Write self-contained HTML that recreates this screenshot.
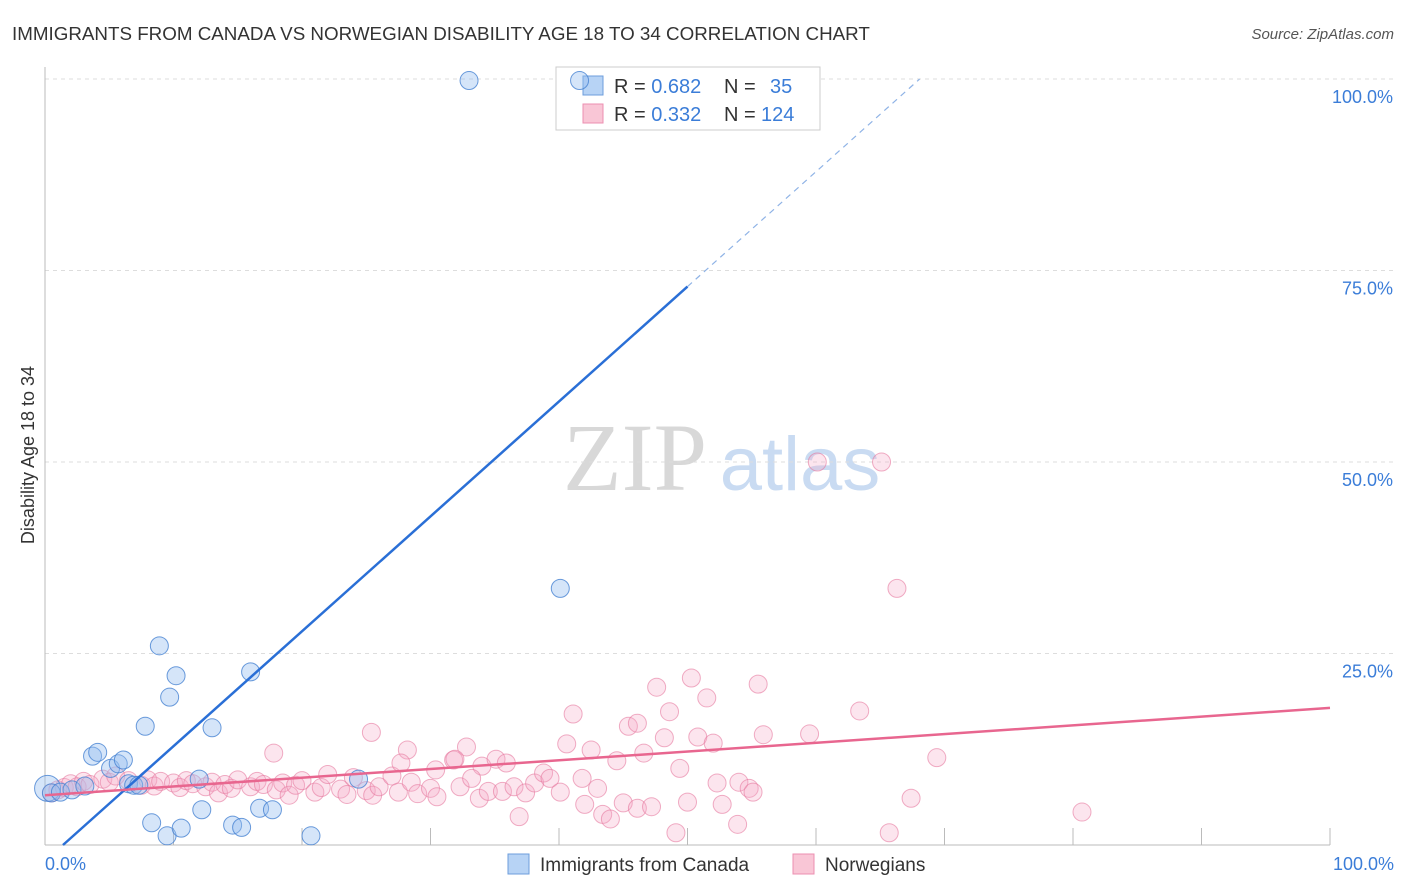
<!DOCTYPE html>
<html><head><meta charset="utf-8"><style>
body{margin:0;background:#fff;font-family:"Liberation Sans",sans-serif}
svg{display:block}
</style></head><body>
<svg id="chart" width="1406" height="892">
<text x="12" y="40" font-size="18.8" fill="#333">IMMIGRANTS FROM CANADA VS NORWEGIAN DISABILITY AGE 18 TO 34 CORRELATION CHART</text>
<text x="1394" y="39" font-size="15" fill="#555" text-anchor="end" font-style="italic">Source: ZipAtlas.com</text>
<g>
<text x="635" y="490" font-size="96" fill="#d8d8d8" font-family="Liberation Serif,serif" text-anchor="middle">ZIP</text>
<text x="800" y="490" font-size="76" fill="#c9dbf2" text-anchor="middle">atlas</text>
</g>
<g id="grid"></g>
<text transform="translate(34,455) rotate(-90)" font-size="18" fill="#333" text-anchor="middle">Disability Age 18 to 34</text>
<g>
<rect x="556" y="67" width="264" height="63" fill="#fff" stroke="#ccc"/>
<rect x="583" y="76" width="20" height="19" fill="#b7d3f5" stroke="#6c9edc"/>
<rect x="583" y="104" width="20" height="19" fill="#f9c6d6" stroke="#ec8fb0"/>
<text x="614" y="93" font-size="20" fill="#333">R = <tspan fill="#3b7dd8">0.682</tspan><tspan x="724">N = </tspan><tspan x="770" fill="#3b7dd8">35</tspan></text>
<text x="614" y="121" font-size="20" fill="#333">R = <tspan fill="#3b7dd8">0.332</tspan><tspan x="724">N = </tspan><tspan x="761" fill="#3b7dd8">124</tspan></text>
</g>
<g id="marks"></g>
<g>
<rect x="508" y="854" width="21" height="20" fill="#b7d3f5" stroke="#6c9edc"/>
<text x="540" y="871" font-size="19" fill="#333">Immigrants from Canada</text>
<rect x="793" y="854" width="21" height="20" fill="#f9c6d6" stroke="#ec8fb0"/>
<text x="825" y="871" font-size="19" fill="#333">Norwegians</text>
</g>
</svg>
<script>
const yTicks=[25,50,75,100];
const xTickLabels=["0.0%","100.0%"];
const blueX=[0.2,0.5,1.2,2.1,3.1,3.7,4.1,5.1,5.7,6.1,6.5,6.9,7.3,7.8,8.9,8.3,9.5,9.7,10.2,10.6,12.0,12.2,13.0,14.6,15.3,16.0,16.7,17.7,20.7,24.4,33.0,41.6,40.1];
const blueY=[7.4,6.8,6.9,7.2,7.7,11.6,12.1,10.0,10.6,11.1,8.0,7.8,7.8,15.5,26.0,2.9,1.2,19.3,22.1,2.2,8.6,4.6,15.3,2.6,2.3,22.6,4.8,4.6,1.2,8.6,99.8,99.8,33.5];
const pinkX=[0.5,1.0,1.5,2.0,2.5,3.0,3.5,4.5,5.0,5.5,6.5,7.5,8.0,8.5,9.0,10.0,10.5,11.0,11.5,12.5,13.0,13.5,14.0,14.5,15.0,16.0,16.5,17.0,18.0,18.5,19.0,19.5,20.0,21.0,21.5,22.0,23.0,23.5,24.0,25.0,25.5,26.0,27.0,27.5,28.5,29.0,30.0,30.5,
17.8,25.4,28.2,27.7,30.4,31.8,32.8,31.9,34.0,35.1,35.9,32.3,33.2,33.8,34.5,35.6,36.5,37.4,38.1,38.8,39.3,40.1,36.9,41.1,40.6,42.5,41.8,42.0,43.0,43.4,44.0,45.0,46.1,47.2,44.5,45.4,46.1,46.6,47.6,48.6,48.2,49.4,49.1,50.0,50.3,51.5,50.8,52.0,52.3,52.7,53.9,54.0,54.8,55.1,55.5,55.9,59.5,63.4,69.4,67.4,65.7,60.1,65.1,66.3,80.7];
const pinkY=[6.8,7.2,7.5,8.0,7.6,8.3,7.9,8.6,8.2,9.0,8.4,7.8,8.5,7.7,8.3,8.1,7.5,8.4,8.0,7.6,8.2,6.8,7.9,7.4,8.5,7.6,8.3,7.9,7.2,8.1,6.5,7.8,8.4,6.9,7.5,9.2,7.3,6.6,8.8,7.1,6.5,7.6,9.0,6.9,8.2,6.7,7.4,6.3,
12.0,14.7,12.4,10.7,9.8,11.1,12.8,11.2,10.3,11.2,10.7,7.6,8.7,6.1,7.0,7.0,7.6,6.8,8.1,9.4,8.7,6.9,3.7,17.1,13.2,12.4,8.7,5.3,7.4,4.0,3.4,5.5,4.8,5.0,11.0,15.5,15.9,12.0,20.6,17.4,14.0,10.0,1.6,5.6,21.8,19.2,14.1,13.3,8.1,5.3,2.7,8.2,7.4,6.9,21.0,14.4,14.5,17.5,11.4,6.1,1.6,50.0,50.0,33.5,4.3];
const blueFit=[1.4,72.9];
const pinkFit=[6.5,17.9];
const NS='http://www.w3.org/2000/svg';
const X0=45,X1=1330,Y0=845,Y1=79;
const sx=v=>X0+(X1-X0)*v/100, sy=v=>Y0-(Y0-Y1)*v/100;
function mk(t,a,p){const e=document.createElementNS(NS,t);for(const k in a)e.setAttribute(k,a[k]);p.appendChild(e);return e;}
const grid=document.getElementById('grid'),marks=document.getElementById('marks');
yTicks.forEach(v=>{
 const l=mk('line',{x1:X0,x2:1394,y1:sy(v),y2:sy(v),stroke:'#ddd','stroke-dasharray':'4,4'},grid);
 
 
 const t=mk('text',{x:1393,y:sy(v)+24,'font-size':18,fill:'#3b7dd8','text-anchor':'end'},grid);
 t.textContent=v.toFixed(1)+'%';
 
 
});
const ax=mk('line',{x1:X0,x2:X0,y1:67,y2:Y0,stroke:'#bbb'},grid);


const bx=mk('line',{x1:X0,x2:X1,y1:Y0,y2:Y0,stroke:'#bbb'},grid);


for(let k=1;k<=10;k++){const tk=mk('line',{x1:sx(k*10),x2:sx(k*10),y1:828,y2:Y0,stroke:'#bbb'},grid);
 
 }
[[0,'start',X0],[100,'end',1394]].forEach((d,i)=>{const t=mk('text',{x:d[2],y:870,'font-size':18,fill:'#3b7dd8','text-anchor':d[1]},grid);
 t.textContent=xTickLabels[i];
 
 });
pinkX.forEach((x,i)=>{const c=mk('circle',{cx:sx(x),cy:sy(pinkY[i]),r:9,fill:'rgba(244,170,198,0.3)',stroke:'rgba(230,120,158,0.6)'},marks);
 
 });
blueX.forEach((x,i)=>{const c=mk('circle',{cx:sx(x),cy:sy(blueY[i]),r:i==0?13:9,fill:'rgba(150,190,240,0.4)',stroke:'rgba(70,130,210,0.8)'},marks);
 
 });
const bslope=blueFit[1]/(50-blueFit[0]);
const bl=mk('line',{x1:sx(blueFit[0]),y1:sy(0),x2:sx(50),y2:sy(blueFit[1]),stroke:'#2a6fd6','stroke-width':2.5},marks);


const xe=blueFit[0]+100/bslope;
const bd=mk('line',{x1:sx(50),y1:sy(blueFit[1]),x2:sx(xe),y2:sy(100),stroke:'#8fb3e6','stroke-width':1.2,'stroke-dasharray':'6,5'},marks);


const pl=mk('line',{x1:sx(0),y1:sy(pinkFit[0]),x2:sx(100),y2:sy(pinkFit[1]),stroke:'#e8668f','stroke-width':2.5},marks);


</script>
</body></html>
